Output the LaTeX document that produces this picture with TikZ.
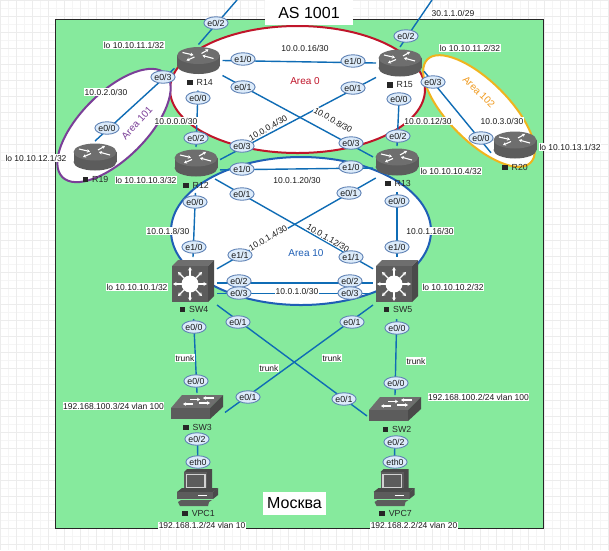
\documentclass[tikz,border=0pt]{standalone}
\usepackage{fontspec}
\setmainfont{Liberation Sans}
\usetikzlibrary{shapes.geometric,arrows.meta}
\definecolor{bggreen}{HTML}{86EA9D}
\definecolor{linkblue}{HTML}{0F6CB5}
\definecolor{ifcfill}{HTML}{DCEBFA}
\definecolor{ifcline}{HTML}{5F82B5}
\definecolor{gridminor}{HTML}{F5F5F5}
\definecolor{gridmajor}{HTML}{ECECEC}
\definecolor{areared}{HTML}{C0152A}
\definecolor{areablue}{HTML}{1F5FB5}
\definecolor{areapurple}{HTML}{7B3F98}
\definecolor{areagold}{HTML}{F0B41E}
\definecolor{areaorange}{HTML}{F09A1E}
\definecolor{devtop}{HTML}{6E6E6E}
\definecolor{devmid}{HTML}{5C5C5C}
\definecolor{devdark}{HTML}{4A4A4A}
\tikzset{
  x=1pt,y=-1pt,
  area/.style={ellipse,draw,fill=white,line width=2pt,inner sep=0pt,outer sep=0pt},
  arealabel/.style={font=\fontsize{10}{12}\selectfont,inner sep=0pt},
  rdev/.style={minimum width=48pt,minimum height=32pt,inner sep=0pt,outer sep=0pt},
  ldev/.style={minimum width=48pt,minimum height=48pt,inner sep=0pt,outer sep=0pt},
  sdev/.style={minimum width=56pt,minimum height=28pt,inner sep=0pt,outer sep=0pt},
  pcdev/.style={minimum width=44pt,minimum height=40pt,inner sep=0pt,outer sep=0pt},
  link/.style={draw=linkblue,line width=1.4pt},
  gapped/.style={link,shorten <=#1},
  ifc/.style={ellipse,draw=ifcline,fill=ifcfill,line width=0.9pt,inner sep=0pt,
    minimum width=21.5pt,minimum height=12.5pt,font=\fontsize{8.8}{10}\selectfont,text=black!90},
  addr/.style={fill=white,inner sep=0.6pt,font=\fontsize{8.5}{10}\selectfont,text=black!90},
  devname/.style={inner sep=0pt,font=\fontsize{8.8}{10}\selectfont,text=black!85},
  bigtext/.style={fill=white,inner sep=0pt,font=\fontsize{16}{18}\selectfont,text=black},
  wa/.style={draw=white,line width=1.1pt,-{Stealth[length=3pt,width=3.6pt]}},
  routericon/.pic={
    \fill[devmid] (-21.5,-5) rectangle (21.5,5);
    \fill[devmid] (0,5) ellipse [x radius=21.5,y radius=8.5];
    \fill[devtop] (0,-5) ellipse [x radius=21.5,y radius=8.5];
    \draw[wa] (-16,-8) -- (-5,-5.5);
    \draw[wa] (-4,-3.5) -- (-12,0);
    \draw[wa] (3,-7) -- (10,-11);
    \draw[wa] (15,-2) -- (4,-5);
  },
  coreicon/.pic={
    \fill[devtop] (-21,-15) -- (-15,-21) -- (21,-21) -- (15,-15) -- cycle;
    \fill[devdark] (15,-15) -- (21,-21) -- (21,15) -- (15,21) -- cycle;
    \fill[devmid] (-21,-15) rectangle (15,21);
    \foreach \a in {0,45,...,315}{
      \draw[white,line width=1.1pt,-{Stealth[length=3.5pt,width=4pt]}]
        (-3,3) ++(\a:8) -- ++(\a:9);
    }
    \fill[white] (-3,3) circle (8.5);
  },
  swicon/.pic={
    \fill[devtop] (-26,1) -- (-15,-12) -- (26,-12) -- (13,1) -- cycle;
    \fill[devmid] (-26,1) rectangle (13,12);
    \fill[devdark] (13,1) -- (26,-12) -- (26,0) -- (13,12) -- cycle;
    \draw[wa] (-7,-7.5) -- (3,-7.5);
    \draw[wa] (17,-9) -- (6,-9);
    \draw[wa] (-4,-3) -- (-14,-3);
    \draw[wa] (2,-4) -- (13,-4);
  },
  pcicon/.pic={
    \fill[devdark] (-14,-15) -- (-11,-18) -- (14,-18) -- (14,1) -- (9,3) -- cycle;
    \fill[devmid] (-14,-15) rectangle (9,3);
    \draw[black!18,line width=1.3pt,fill=devmid] (-11.5,-12.5) rectangle (7,1);
    \fill[devdark] (-21,5) -- (-16,1) -- (20,1) -- (15,5) -- cycle;
    \fill[devmid] (-21,5) rectangle (15,12);
    \fill[devdark] (15,5) -- (20,1) -- (20,8) -- (15,12) -- cycle;
    \draw[white,line width=1pt] (0,8.5) -- (9,8.5);
    \fill[devmid] (-20,15) -- (-17,13) -- (14,13) -- (11,15) -- (10,19) -- (-18,19) -- cycle;
  },
}
\newcommand{\dname}[1]{\rule{5.5pt}{5.5pt}\hspace{4pt}#1}
\begin{document}
\begin{tikzpicture}
\useasboundingbox (0,0) rectangle (609,550);
\clip (0,0) rectangle (609,550);
\fill[white] (0,0) rectangle (609,550);
\foreach \k in {0,8,...,608}{\draw[gridminor,line width=0.6pt] (\k,0) -- (\k,550);}
\foreach \k in {0,8,...,544}{\draw[gridminor,line width=0.6pt] (0,\k) -- (609,\k);}
\foreach \k in {0,16,...,608}{\draw[gridmajor,line width=0.9pt] (\k,0) -- (\k,550);}
\foreach \k in {0,16,...,544}{\draw[gridmajor,line width=0.9pt] (0,\k) -- (609,\k);}
\draw[fill=bggreen,draw=black!85,line width=0.8pt] (55,19.5) rectangle (543,528);

% OSPF areas
\node[area,draw=areablue,minimum width=260pt,minimum height=148pt] (area10) at (301,231) {};
\node[area,draw=areared,minimum width=255pt,minimum height=127pt] (area0) at (297.5,89.5) {};
\node[area,draw=areapurple,minimum width=146pt,minimum height=66pt,rotate=45] (area101) at (114,125.5) {};
\node[area,draw=areagold,minimum width=146pt,minimum height=60pt,rotate=-45] (area102) at (479,111) {};
\node[arealabel,text=areared] (t0) at (305,81) {Area 0};
\node[arealabel,text=areablue] (t10) at (306,253) {Area 10};
\node[arealabel,text=areapurple,rotate=48] (t101) at (137,123) {Area 101};
\node[arealabel,text=areaorange,rotate=-45] (t102) at (479,92) {Area 102};

% devices
\node[rdev] (R14) at (198.5,60.5) {}; \pic at (R14) {routericon};
\node[rdev] (R15) at (400,63) {};     \pic at (R15) {routericon};
\node[rdev] (R12) at (196,163) {};    \pic at (R12) {routericon};
\node[rdev] (R13) at (397,162) {};    \pic at (R13) {routericon};
\node[rdev] (R19) at (95,157) {};     \pic at (R19) {routericon};
\node[rdev] (R20) at (515,145) {};    \pic at (R20) {routericon};
\node[ldev] (SW4) at (193,281) {};    \pic at (SW4) {coreicon};
\node[ldev] (SW5) at (397,281) {};    \pic at (SW5) {coreicon};
\node[sdev] (SW3) at (197,407) {};    \pic at (SW3) {swicon};
\node[sdev] (SW2) at (395,409) {};    \pic at (SW2) {swicon};
\node[pcdev] (VPC1) at (198,487) {};  \pic at (VPC1) {pcicon};
\node[pcdev] (VPC7) at (394.5,487) {};\pic at (VPC7) {pcicon};
\coordinate (extA) at (237,0);
\coordinate (extB) at (432,0);

% connectors
\draw[link] (R14.north) -- (extA);
\draw[link] (R15.north) -- (extB);
\draw[link] (R14.east) -- (R15.west);
\draw[link] (R14.-32) -- (R13.168);
\draw[link] (R15.211) -- (R12.8);
\draw[gapped=14pt] (R14.south) -- (R12.north);
\draw[gapped=14pt] (R15.south) -- (R13.north);
\draw[link] (R12.344) -- (R13.194);
\draw[link] (R12.-40) -- (SW5.153);
\draw[link] (R13.217) -- (SW4.27);
\draw[gapped=14pt] (R12.south) -- (SW4.north);
\draw[gapped=14pt] (R13.south) -- (SW5.north);
\draw[link] (SW4.-5) -- (SW5.185);
\draw[link] (SW4.333) -- (SW5.207);
\draw[link] (SW4.south east) -- (SW2.194);
\draw[link] (SW5.south west) -- (SW3.-11);
\draw[gapped=14pt] (SW4.south) -- (SW3.north);
\draw[gapped=14pt] (SW5.south) -- (SW2.north);
\draw[gapped=14pt] (SW3.south) -- (VPC1.north);
\draw[gapped=14pt] (SW2.south) -- (VPC7.north);
\draw[link] (R14.198) -- (R19.north);
\draw[link] (R15.-19) -- (R20.198);

% device names
\node[devname] (nR14) at (200,82) {\dname{R14}};
\node[devname] (nR15) at (400,85) {\dname{R15}};
\node[devname] (nR12) at (196,185) {\dname{R12}};
\node[devname] (nR13) at (398,183) {\dname{R13}};
\node[devname] (nR19) at (95.5,179) {\dname{R19}};
\node[devname] (nR20) at (515,167) {\dname{R20}};
\node[devname] (nSW4) at (194,309) {\dname{SW4}};
\node[devname] (nSW5) at (398,309) {\dname{SW5}};
\node[devname] (nSW3) at (197.5,427) {\dname{SW3}};
\node[devname] (nSW2) at (397,429) {\dname{SW2}};
\node[devname] (nVPC1) at (198.5,513) {\dname{VPC1}};
\node[devname] (nVPC7) at (395.5,513) {\dname{VPC7}};

% addresses
\node[addr] (a1) at (134,45) {lo 10.10.11.1/32};
\node[addr] (a2) at (470,48) {lo 10.10.11.2/32};
\node[addr] (a3) at (146,180) {lo 10.10.10.3/32};
\node[addr] (a4) at (451,171) {lo 10.10.10.4/32};
\node[addr] (a5) at (36,158) {lo 10.10.12.1/32};
\node[addr] (a6) at (570,147) {lo 10.10.13.1/32};
\node[addr] (a7) at (137,287) {lo 10.10.10.1/32};
\node[addr] (a8) at (453,287) {lo 10.10.10.2/32};
\node[addr] (b1) at (305,48) {10.0.0.16/30};
\node[addr] (b2) at (106,92) {10.0.2.0/30};
\node[addr] (b3) at (176,121) {10.0.0.0/30};
\node[addr] (b4) at (428,121) {10.0.0.12/30};
\node[addr] (b5) at (502,121) {10.0.3.0/30};
\node[addr] (b6) at (453,13) {30.1.1.0/29};
\node[addr,rotate=30] (b7) at (268,128) {10.0.0.4/30};
\node[addr,rotate=-30] (b8) at (333,120) {10.0.0.8/30};
\node[addr] (b9) at (297,180) {10.0.1.20/30};
\node[addr] (b10) at (168,231) {10.0.1.8/30};
\node[addr] (b11) at (430,231) {10.0.1.16/30};
\node[addr,rotate=30] (b12) at (268,238) {10.0.1.4/30};
\node[addr,rotate=-30] (b13) at (328,238) {10.0.1.12/30};
\node[addr] (b14) at (297,291) {10.0.1.0/30};
\node[addr] (c1) at (185,358) {trunk};
\node[addr] (c2) at (269,368) {trunk};
\node[addr] (c3) at (332,358) {trunk};
\node[addr] (c4) at (416,361) {trunk};
\node[addr] (d1) at (113.5,406) {192.168.100.3/24 vlan 100};
\node[addr] (d2) at (478.5,397) {192.168.100.2/24 vlan 100};
\node[addr] (d3) at (202,525.5) {192.168.1.2/24 vlan 10};
\node[addr] (d4) at (414,525.5) {192.168.2.2/24 vlan 20};

% interface labels
\node[ifc] (i1) at (216,23) {e0/2};
\node[ifc] (i2) at (406,36) {e0/2};
\node[ifc] (i3) at (243,59) {e1/0};
\node[ifc] (i4) at (353,61) {e1/0};
\node[ifc] (i5) at (243,87) {e0/1};
\node[ifc] (i6) at (353,88) {e0/1};
\node[ifc] (i7) at (198,98) {e0/0};
\node[ifc] (i8) at (196,138) {e0/2};
\node[ifc] (i9) at (399,99) {e0/0};
\node[ifc] (i10) at (398,136) {e0/2};
\node[ifc] (i11) at (242,146) {e0/3};
\node[ifc] (i12) at (351,143) {e0/3};
\node[ifc] (i13) at (242,169) {e1/0};
\node[ifc] (i14) at (351,167) {e1/0};
\node[ifc] (i15) at (242,194) {e0/1};
\node[ifc] (i16) at (349,193) {e0/1};
\node[ifc] (i17) at (195,202) {e0/0};
\node[ifc] (i18) at (397,201) {e0/0};
\node[ifc] (i19) at (194,247) {e1/0};
\node[ifc] (i20) at (397,247) {e1/0};
\node[ifc] (i21) at (240,255) {e1/1};
\node[ifc] (i22) at (351,257) {e1/1};
\node[ifc] (i23) at (239,281) {e0/2};
\node[ifc] (i24) at (239,293) {e0/3};
\node[ifc] (i25) at (350,281) {e0/2};
\node[ifc] (i26) at (350,293) {e0/3};
\node[ifc] (i27) at (238,322) {e0/1};
\node[ifc] (i28) at (352,322) {e0/1};
\node[ifc] (i29) at (194,327) {e0/0};
\node[ifc] (i30) at (397,328) {e0/0};
\node[ifc] (i31) at (196,381) {e0/0};
\node[ifc] (i32) at (396,383) {e0/0};
\node[ifc] (i33) at (248,397) {e0/1};
\node[ifc] (i34) at (344,399) {e0/1};
\node[ifc] (i35) at (197,439) {e0/2};
\node[ifc] (i36) at (396,442) {e0/2};
\node[ifc] (i37) at (198,462) {eth0};
\node[ifc] (i38) at (395,462) {eth0};
\node[ifc] (i39) at (163,77) {e0/3};
\node[ifc] (i40) at (107,128) {e0/0};
\node[ifc] (i41) at (433,82) {e0/3};
\node[ifc] (i42) at (481,138) {e0/0};

% titles
\node[bigtext,minimum width=88pt,minimum height=25pt] (asname) at (309,12.5) {AS 1001};
\node[bigtext,minimum width=63pt,minimum height=23pt] (city) at (294.5,503.5) {Москва};
\end{tikzpicture}
\end{document}
